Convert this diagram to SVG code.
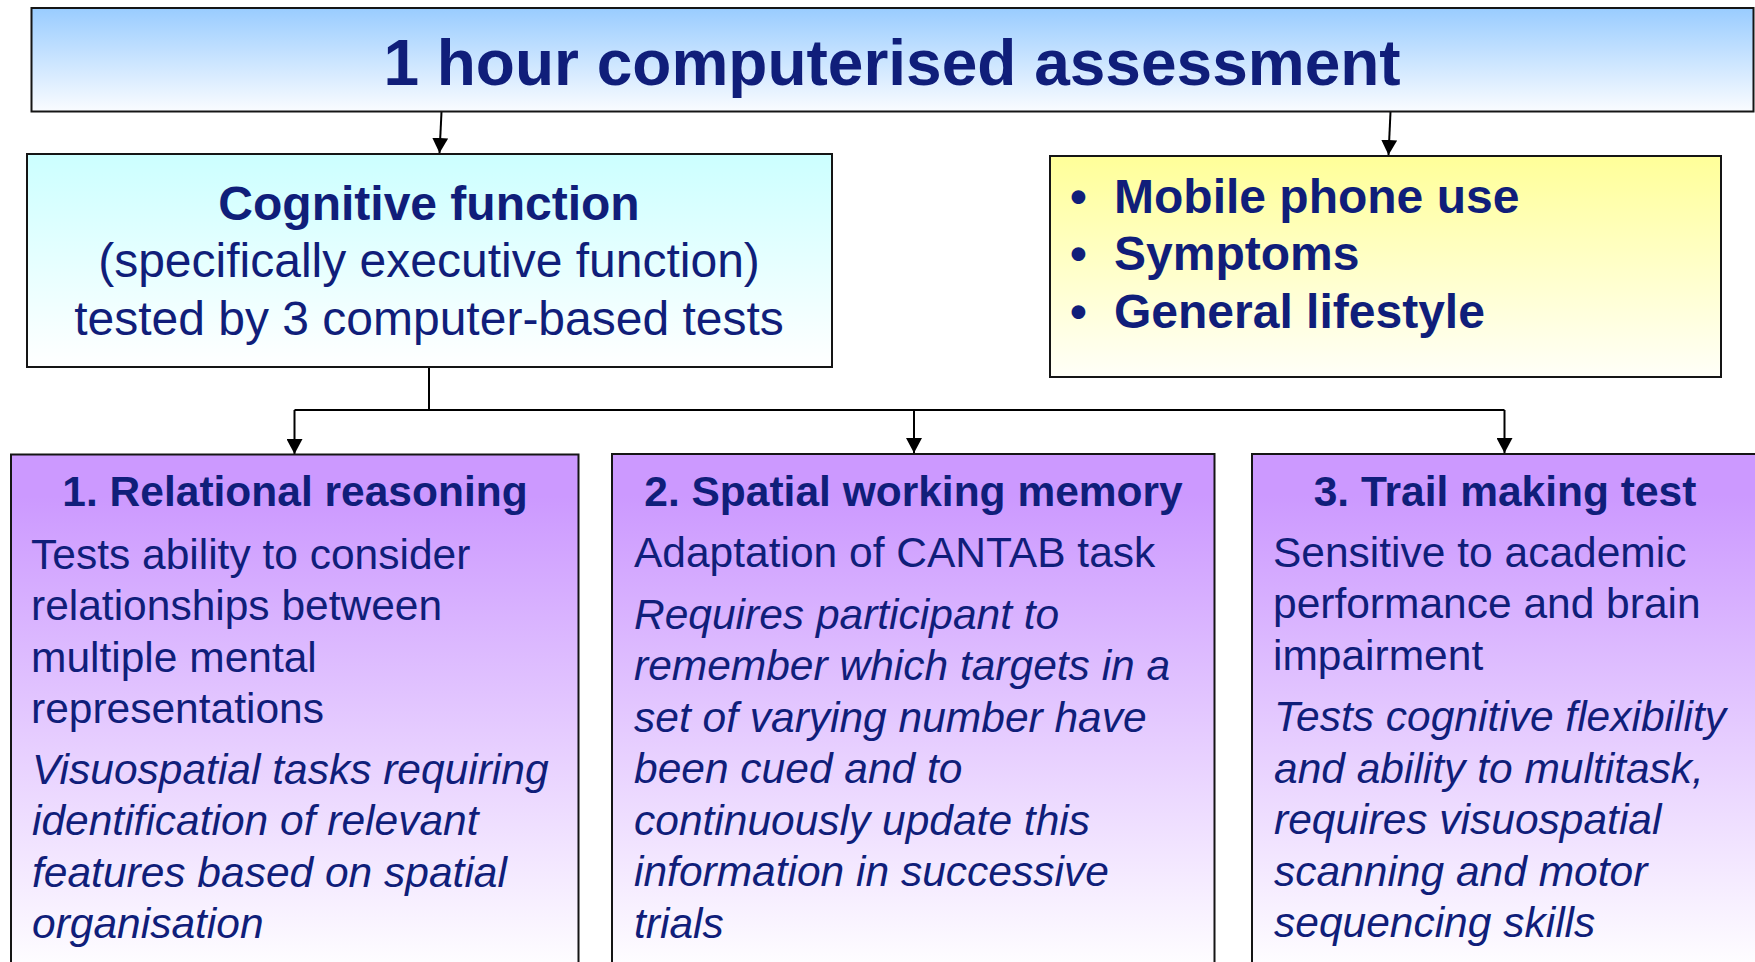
<svg xmlns="http://www.w3.org/2000/svg" width="1755" height="962" viewBox="0 0 1755 962">
  <style>
    .box { stroke: #151515; stroke-width: 2; }
    .t { font-family: "Liberation Sans", Arial, sans-serif; fill: #101E7A; }
    .b { font-weight: bold; }
    .i { font-style: italic; }
    .c { text-anchor: middle; }
    .conn { fill: none; stroke: #000; stroke-width: 2; }
  </style>
  <defs>
    <linearGradient id="gBlue" x1="0" y1="0" x2="0" y2="1">
      <stop offset="0" stop-color="#99CCFF"/>
      <stop offset="1" stop-color="#FAFCFF"/>
    </linearGradient>
    <linearGradient id="gCyan" x1="0" y1="0" x2="0" y2="1">
      <stop offset="0" stop-color="#CCFFFF"/>
      <stop offset="1" stop-color="#FFFFFF"/>
    </linearGradient>
    <linearGradient id="gYellow" x1="0" y1="0" x2="0" y2="1">
      <stop offset="0" stop-color="#FFFF99"/>
      <stop offset="1" stop-color="#FFFFF8"/>
    </linearGradient>
    <linearGradient id="gPurple" x1="0" y1="0" x2="0" y2="1">
      <stop offset="0" stop-color="#CC99FF"/>
      <stop offset="0.08" stop-color="#CC99FF"/>
      <stop offset="1" stop-color="#FFFFFF"/>
    </linearGradient>
    <marker id="arrow" markerUnits="userSpaceOnUse" markerWidth="16" markerHeight="16" viewBox="0 0 16 16" refX="15" refY="8" orient="auto">
      <path d="M0,0 L15,8 L0,16 Z" fill="#000"/>
    </marker>
  </defs>

  <g id="connectors">
    <path class="conn" d="M441.5,112 L439.5,153" marker-end="url(#arrow)"/>
    <path class="conn" d="M1390.5,112 L1388.5,155" marker-end="url(#arrow)"/>
    <path class="conn" d="M429,367 V410 M294.5,410 H1504.5"/>
    <path class="conn" d="M294.5,410 V454" marker-end="url(#arrow)"/>
    <path class="conn" d="M914,410 V453" marker-end="url(#arrow)"/>
    <path class="conn" d="M1504.5,410 V453" marker-end="url(#arrow)"/>
  </g>

  <g id="node-assessment">
    <rect class="box" x="31.5" y="8" width="1722" height="103.5" fill="url(#gBlue)"/>
    <text class="t b c" x="892" y="85" font-size="64">1 hour computerised assessment</text>
  </g>

  <g id="node-cognitive">
    <rect class="box" x="27" y="154" width="805" height="213" fill="url(#gCyan)"/>
    <text class="t b c" x="429" y="220" font-size="48">Cognitive function</text>
    <text class="t c" x="429" y="277" font-size="48">(specifically executive function)</text>
    <text class="t c" x="429" y="335" font-size="48">tested by 3 computer-based tests</text>
  </g>

  <g id="node-lifestyle">
    <rect class="box" x="1050" y="156" width="671" height="221" fill="url(#gYellow)"/>
    <text class="t b" font-size="48">
      <tspan x="1070" y="212.5">•</tspan><tspan x="1114" y="212.5">Mobile phone use</tspan>
      <tspan x="1070" y="270">•</tspan><tspan x="1114" y="270">Symptoms</tspan>
      <tspan x="1070" y="328">•</tspan><tspan x="1114" y="328">General lifestyle</tspan>
    </text>
  </g>

  <g id="node-relational">
    <rect class="box" x="11" y="454.5" width="567.5" height="520" fill="url(#gPurple)"/>
    <text class="t b c" x="295" y="506" font-size="42.5">1. Relational reasoning</text>
    <text class="t" font-size="42.5">
      <tspan x="31" y="568.5">Tests ability to consider</tspan>
      <tspan x="31" y="620">relationships between</tspan>
      <tspan x="31" y="671.5">multiple mental</tspan>
      <tspan x="31" y="723">representations</tspan>
    </text>
    <text class="t i" font-size="42.5">
      <tspan x="32" y="783.5">Visuospatial tasks requiring</tspan>
      <tspan x="32" y="835">identification of relevant</tspan>
      <tspan x="32" y="886.5">features based on spatial</tspan>
      <tspan x="32" y="938">organisation</tspan>
    </text>
  </g>

  <g id="node-spatial">
    <rect class="box" x="612" y="454" width="602.5" height="520" fill="url(#gPurple)"/>
    <text class="t b c" x="913.5" y="505.5" font-size="42.5">2. Spatial working memory</text>
    <text class="t" x="634" y="567" font-size="42.5">Adaptation of CANTAB task</text>
    <text class="t i" font-size="42.5">
      <tspan x="634" y="628.5">Requires participant to</tspan>
      <tspan x="634" y="680">remember which targets in a</tspan>
      <tspan x="634" y="731.5">set of varying number have</tspan>
      <tspan x="634" y="783">been cued and to</tspan>
      <tspan x="634" y="834.5">continuously update this</tspan>
      <tspan x="634" y="886">information in successive</tspan>
      <tspan x="634" y="937.5">trials</tspan>
    </text>
  </g>

  <g id="node-trail">
    <rect class="box" x="1252" y="454" width="520" height="520" fill="url(#gPurple)"/>
    <text class="t b c" x="1505" y="506" font-size="42.5">3. Trail making test</text>
    <text class="t" font-size="42.5">
      <tspan x="1273" y="567">Sensitive to academic</tspan>
      <tspan x="1273" y="618">performance and brain</tspan>
      <tspan x="1273" y="669.5">impairment</tspan>
    </text>
    <text class="t i" font-size="42.5">
      <tspan x="1274" y="731">Tests cognitive flexibility</tspan>
      <tspan x="1274" y="782.5">and ability to multitask,</tspan>
      <tspan x="1274" y="834">requires visuospatial</tspan>
      <tspan x="1274" y="885.5">scanning and motor</tspan>
      <tspan x="1274" y="937">sequencing skills</tspan>
    </text>
  </g>
</svg>
